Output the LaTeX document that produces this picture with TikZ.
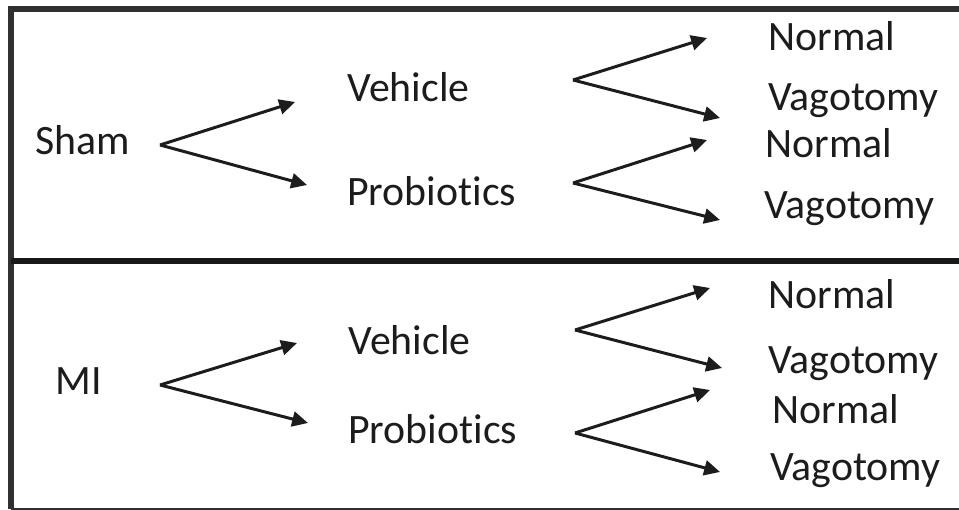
\documentclass[tikz,border=0pt]{standalone}
\usepackage{fontspec}
\setmainfont{Carlito}[Ligatures=NoCommon]
\usetikzlibrary{arrows.meta, positioning}
\definecolor{figink}{RGB}{28,28,28}
\definecolor{figframe}{RGB}{48,48,48}
\tikzset{
  lbl/.style={anchor=base west, inner sep=0pt, text=figink,
              font=\fontsize{23.8}{28}\selectfont},
  arr/.style={-{Triangle[length=9pt, width=8.5pt]}, line width=1.7pt, draw=figink},
  frameline/.style={draw=figframe, line width=3.4pt},
  thinline/.style={draw=figframe, line width=0.9pt},
}

\begin{document}
\begin{tikzpicture}
  \useasboundingbox (0,0) rectangle (19.18,10.2);

  % frame
  \draw[frameline] (19.18,10.02) -- (0.22,10.02) -- (0.22,0.02);
  \draw[frameline, draw=black!90] (0.22,4.98) -- (19.18,4.98);
  \draw[thinline] (0.22,0.02) -- (19.18,0.02);

  % upper group
  \node[lbl] (sham) at (0.70,7.10) {Sham};
  \node[lbl] (veh1) at (6.94,8.16) {Vehicle};
  \node[lbl] (pro1) at (6.94,6.08) {Probiotics};
  \node[lbl] (nor1a) at (15.36,9.18) {Normal};
  \node[lbl] (vag1a) at (15.36,7.98) {Vagotomy};
  \node[lbl] (nor1b) at (15.30,7.04) {Normal};
  \node[lbl] (vag1b) at (15.28,5.82) {Vagotomy};

  % lower group
  \node[lbl] (mi) at (1.10,2.30) {MI};
  \node[lbl] (veh2) at (6.96,3.10) {Vehicle};
  \node[lbl] (pro2) at (6.96,1.32) {Probiotics};
  \node[lbl] (nor2a) at (15.36,4.02) {Normal};
  \node[lbl] (vag2a) at (15.36,2.72) {Vagotomy};
  \node[lbl] (nor2b) at (15.44,1.72) {Normal};
  \node[lbl] (vag2b) at (15.40,0.58) {Vagotomy};

  % fork points and arrow ends
  \coordinate (fkS) at (3.20,7.30);
  \coordinate (tS1) at (5.90,8.16);
  \coordinate (tS2) at (6.14,6.50);
  \coordinate (fkV1) at (11.46,8.60);
  \coordinate (tV1a) at (14.14,9.44);
  \coordinate (tV1b) at (14.40,7.84);
  \coordinate (fkP1) at (11.46,6.54);
  \coordinate (tP1a) at (14.14,7.40);
  \coordinate (tP1b) at (14.40,5.80);

  \coordinate (fkM) at (3.20,2.50);
  \coordinate (tM1) at (5.94,3.34);
  \coordinate (tM2) at (6.16,1.74);
  \coordinate (fkV2) at (11.50,3.60);
  \coordinate (tV2a) at (14.20,4.44);
  \coordinate (tV2b) at (14.44,2.84);
  \coordinate (fkP2) at (11.50,1.54);
  \coordinate (tP2a) at (14.20,2.40);
  \coordinate (tP2b) at (14.40,0.76);

  % arrows
  \draw[arr] (fkS) -- (tS1);
  \draw[arr] (fkS) -- (tS2);
  \draw[arr] (fkV1) -- (tV1a);
  \draw[arr] (fkV1) -- (tV1b);
  \draw[arr] (fkP1) -- (tP1a);
  \draw[arr] (fkP1) -- (tP1b);

  \draw[arr] (fkM) -- (tM1);
  \draw[arr] (fkM) -- (tM2);
  \draw[arr] (fkV2) -- (tV2a);
  \draw[arr] (fkV2) -- (tV2b);
  \draw[arr] (fkP2) -- (tP2a);
  \draw[arr] (fkP2) -- (tP2b);
\end{tikzpicture}
\end{document}
